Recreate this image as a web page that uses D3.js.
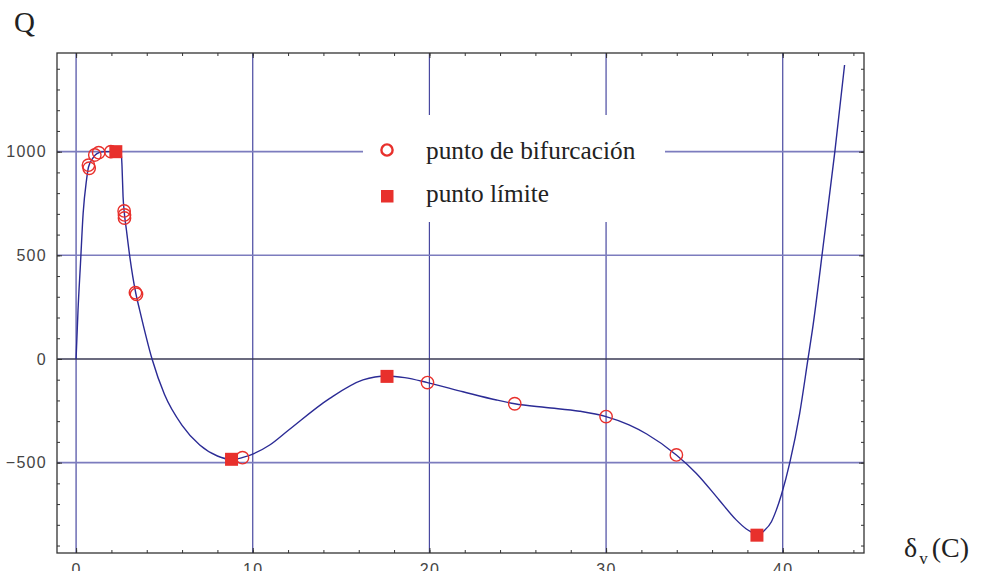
<!DOCTYPE html>
<html><head><meta charset="utf-8">
<script src="https://cdn.jsdelivr.net/npm/d3@7"></script>
<style>html,body{margin:0;padding:0;background:#fff;}svg{display:block;}</style>
</head><body>
<svg id="c" width="982" height="571"></svg>
<script>
// ---- data ----
const curveV = [0,0.11,0.25,0.4,0.59,0.7,0.96,1.1,1.3,1.6,2.3,2.55,2.6,2.66,2.72,2.85,3.04,3.38,3.6,4.3,5.0,6.0,7.0,8.0,8.8,9.4,10.96,12.0,14.36,16.24,17.6,18.6,19.89,21.9,23.8,24.83,26.6,28.5,30.0,31.3,32.3,33.98,35.1,36.4,37.35,37.94,38.3,38.6,38.9,39.36,39.64,39.92,40.4,40.96,41.43,41.68,42.33,42.95,43.5];
const curveQ = [0,236,462,703,863,925,970,985,995,1000,1000,1000,930,783,714,622,494,317,236,0,-170,-320,-415,-468,-485,-476,-415,-345,-190,-101,-82,-90,-114,-158,-198,-216,-234,-252,-278,-318,-362,-463,-551,-680,-775,-820,-838,-852,-832,-785,-728,-656,-500,-262,0,140,574,1000,1418];
const bifV = [0.70,0.74,1.06,1.28,1.97,2.72,2.74,2.74,3.36,3.42,9.42,19.89,24.83,30.0,33.98];
const bifQ = [935,920,984,995,1000,714,695,680,320,312,-476,-114,-216,-278,-463];
const limV = [2.25,8.8,17.6,38.54];
const limQ = [1000,-484,-84,-850];
const xTicks = [0,10,20,30,40];
const xTickLabels = ["0","10","20","30","40"];
const yTicks = [-500,0,500,1000];
const yTickLabels = ["\u2212500","0","500","1000"];
const legendLabels = ["punto de bifurcación","punto límite"];

// ---- layout ----
const L=57,R=864,T=53,B=553;
const x = d3.scaleLinear().domain([-1.08,44.6]).range([L,R]);
const y = d3.scaleLinear().domain([-936,1476]).range([B,T]);
const svg = d3.select("#c");
const RED="#e8302c", NAVY="#2b2b95";

// gridlines
const g = svg.append("g");
g.selectAll("line.v").data(xTicks).join("line")
  .attr("x1",d=>x(d)).attr("x2",d=>x(d)).attr("y1",T).attr("y2",B)
  .attr("stroke","#4848a0").attr("stroke-width",1.2);
g.selectAll("line.h").data(yTicks.filter(d=>d!==0)).join("line")
  .attr("x1",L).attr("x2",R).attr("y1",d=>y(d)).attr("y2",d=>y(d))
  .attr("stroke","#7c7cbe").attr("stroke-width",1.6);
g.append("line").attr("x1",L).attr("x2",R).attr("y1",y(0)).attr("y2",y(0))
  .attr("stroke","#3a3a55").attr("stroke-width",1.5);

// legend background
svg.append("rect").attr("x",363).attr("y",115).attr("width",302).attr("height",107).attr("fill","#fff");

// frame and ticks
const minorX = d3.range(0,45,2), minorY = d3.range(-900,1401,100);
function axis(gen, tr, vals, size, fmt){
  const a = svg.append("g").attr("transform",tr)
    .call(gen.tickValues(vals).tickSizeInner(-size).tickSizeOuter(0).tickPadding(10).tickFormat(fmt));
  a.select(".domain").remove();
  a.selectAll(".tick line").attr("stroke","#333").attr("stroke-width",1);
  return a;
}
axis(d3.axisBottom(x), `translate(0,${B})`, minorX, 3, ()=>"");
axis(d3.axisTop(x), `translate(0,${T})`, minorX, 3, ()=>"");
axis(d3.axisLeft(y), `translate(${L},0)`, minorY, 3, ()=>"");
axis(d3.axisRight(y), `translate(${R},0)`, minorY, 3, ()=>"");
const ax = axis(d3.axisBottom(x), `translate(0,${B})`, xTicks, 5, (d,i)=>xTickLabels[i]);
ax.selectAll("text").attr("dy",0).attr("y",22);
axis(d3.axisTop(x), `translate(0,${T})`, xTicks, 5, ()=>"");
const ay = axis(d3.axisLeft(y), `translate(${L},0)`, yTicks, 5, (d,i)=>yTickLabels[i]);
axis(d3.axisRight(y), `translate(${R},0)`, yTicks, 5, ()=>"");
svg.selectAll(".tick text").attr("font-family","'Liberation Sans',Arial,sans-serif")
  .attr("font-size",16).attr("fill","#444").attr("letter-spacing","1.3px");
svg.append("rect").attr("x",L).attr("y",T).attr("width",R-L).attr("height",B-T)
  .attr("fill","none").attr("stroke","#333").attr("stroke-width",1.3);

// curve
const pts = curveV.map((v,i)=>[v,curveQ[i]]);
svg.append("path").attr("d", d3.line().x(d=>x(d[0])).y(d=>y(d[1])).curve(d3.curveMonotoneX)(pts))
  .attr("fill","none").attr("stroke",NAVY).attr("stroke-width",1.4);

// markers
svg.selectAll("circle.b").data(bifV.map((v,i)=>[v,bifQ[i]])).join("circle")
  .attr("cx",d=>x(d[0])).attr("cy",d=>y(d[1])).attr("r",6.2)
  .attr("fill","none").attr("stroke",RED).attr("stroke-width",1.4);
svg.selectAll("rect.l").data(limV.map((v,i)=>[v,limQ[i]])).join("rect")
  .attr("x",d=>x(d[0])-6.5).attr("y",d=>y(d[1])-6.5).attr("width",13).attr("height",13).attr("fill",RED);

// legend
svg.append("circle").attr("cx",387).attr("cy",150).attr("r",5.6).attr("fill","none").attr("stroke",RED).attr("stroke-width",2.4);
svg.append("rect").attr("x",381).attr("y",190).attr("width",12.5).attr("height",12.5).attr("fill",RED);
const serif="'Liberation Serif','Times New Roman',serif";
svg.append("text").attr("x",426).attr("y",158.5).attr("font-family",serif).attr("font-size",25.3).attr("fill","#222").text(legendLabels[0]);
svg.append("text").attr("x",426).attr("y",202).attr("font-family",serif).attr("font-size",25.3).attr("fill","#222").text(legendLabels[1]);

// axis titles
svg.append("text").attr("x",14).attr("y",32).attr("font-family",serif).attr("font-size",29).attr("fill","#222").text("Q");
const xt = svg.append("text").attr("x",904).attr("y",557).attr("font-family",serif).attr("font-size",28).attr("fill","#222");
xt.append("tspan").text("δ");
xt.append("tspan").attr("font-size",17).attr("dy",7).attr("dx",2).text("v");
xt.append("tspan").attr("dy",-7).attr("dx",4).text("(C)");
</script>
</body></html>
